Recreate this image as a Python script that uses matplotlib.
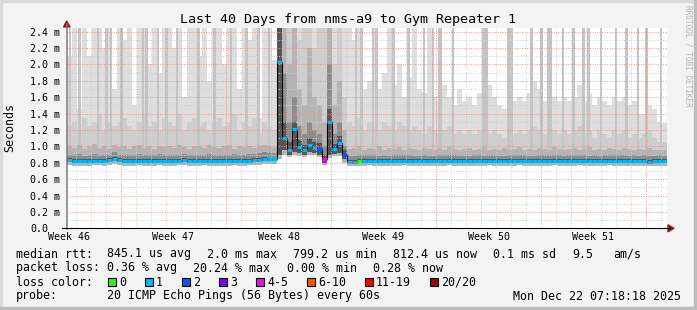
import numpy as np
import matplotlib
matplotlib.use("Agg")
import matplotlib.pyplot as plt
from matplotlib.patches import Rectangle, Polygon

W, H = 697, 310

# smoke values in ms, one column per 1/3 day (40 days -> 120 columns)
rtt_max = [2.10, 2.44, 1.45, 2.44, 2.10, 2.44, 2.44, 2.20, 2.44, 1.70,
           2.44, 2.30, 2.44, 1.50, 2.44, 2.44, 2.00, 2.44, 1.90, 2.44,
           2.44, 2.20, 2.44, 1.60, 2.44, 2.44, 2.10, 2.44, 1.80, 2.44,
           2.44, 2.00, 2.44, 2.44, 1.70, 2.44, 2.30, 2.44, 1.35, 2.44,
           2.44, 2.05, 2.44, 2.44, 2.44, 2.44, 2.44, 2.44, 2.44, 2.44,
           2.44, 2.44, 2.44, 2.44, 2.44, 2.44, 2.44, 2.30, 2.44, 1.70,
           1.80, 2.44, 1.70, 1.90, 2.44, 1.75, 2.00, 1.60, 1.85, 2.44,
           1.70, 1.65, 2.44, 1.60, 1.55, 1.75, 1.60, 1.50, 1.70, 1.55,
           1.60, 1.50, 1.65, 1.55, 1.75, 1.60, 1.50, 1.45, 1.60, 1.55,
           1.60, 1.55, 1.65, 1.80, 1.70, 1.55, 1.50, 1.60, 1.55, 1.60,
           1.55, 1.60, 1.75, 1.55, 1.65, 1.50, 1.60, 1.55, 1.50, 1.60,
           1.55, 1.60, 1.50, 1.55, 1.40, 1.40, 1.50, 1.45, 1.30, 1.28]
rtt_p90 = [1.25, 1.30, 1.20, 1.35, 1.25, 1.30, 1.40, 1.20, 1.30, 1.25,
           1.30, 1.35, 1.25, 1.20, 1.30, 1.40, 1.25, 1.30, 1.20, 1.35,
           1.30, 1.25, 1.40, 1.20, 1.30, 1.35, 1.25, 1.30, 1.20, 1.30,
           1.35, 1.25, 1.30, 1.40, 1.20, 1.30, 1.25, 1.35, 1.15, 1.30,
           1.25, 1.20, 2.44, 2.44, 2.44, 2.44, 2.30, 2.44, 2.44, 2.20,
           2.44, 2.44, 2.44, 2.00, 2.44, 1.60, 1.30, 1.25, 1.35, 1.20,
           1.30, 1.25, 1.20, 1.30, 1.25, 1.20, 1.30, 1.25, 1.20, 1.25,
           1.20, 1.15, 1.25, 1.20, 1.15, 1.20, 1.25, 1.15, 1.20, 1.15,
           1.20, 1.15, 1.20, 1.25, 1.15, 1.20, 1.15, 1.10, 1.20, 1.15,
           1.20, 1.15, 1.20, 1.25, 1.20, 1.15, 1.10, 1.20, 1.15, 1.20,
           1.15, 1.20, 1.25, 1.15, 1.20, 1.10, 1.20, 1.15, 1.10, 1.20,
           1.15, 1.20, 1.10, 1.15, 1.10, 1.15, 1.20, 1.10, 1.05, 1.05]
rtt_p75 = [1.00, 0.98, 1.02, 0.97, 1.00, 1.03, 0.98, 1.00, 0.97, 1.02,
           0.99, 1.01, 0.97, 1.00, 1.02, 0.98, 1.00, 0.97, 1.01, 0.99,
           1.00, 0.98, 1.02, 0.99, 0.97, 1.01, 1.00, 0.98, 1.02, 0.99,
           0.98, 1.00, 1.02, 0.97, 1.00, 0.99, 1.01, 0.98, 1.00, 1.02,
           1.00, 0.99, 2.44, 2.44, 2.00, 2.44, 1.70, 1.50, 2.20, 1.60,
           1.50, 1.30, 2.44, 1.50, 1.80, 1.20, 0.97, 0.98, 1.00, 0.96,
           0.98, 0.97, 1.00, 0.96, 0.98, 0.97, 0.99, 0.96, 0.98, 0.97,
           0.96, 0.98, 0.97, 0.95, 0.98, 0.96, 0.99, 0.97, 0.95, 0.97,
           0.98, 0.96, 0.97, 0.99, 0.96, 0.97, 0.95, 0.98, 0.96, 0.97,
           0.99, 0.96, 0.97, 0.95, 0.98, 0.97, 0.96, 0.99, 0.97, 0.96,
           0.97, 0.98, 0.96, 0.97, 0.99, 0.96, 0.97, 0.95, 0.98, 0.97,
           0.96, 0.98, 0.97, 0.95, 0.97, 0.96, 0.98, 0.96, 0.95, 0.96]
rtt_p65 = [0.90, 0.89, 0.91, 0.88, 0.90, 0.91, 0.89, 0.90, 0.90, 0.93,
           0.90, 0.90, 0.89, 0.90, 0.91, 0.89, 0.90, 0.90, 0.91, 0.89,
           0.90, 0.89, 0.90, 0.91, 0.89, 0.89, 0.90, 0.90, 0.91, 0.89,
           0.89, 0.90, 0.90, 0.91, 0.89, 0.90, 0.91, 0.91, 0.92, 0.93,
           0.92, 0.92, 2.44, 1.90, 1.30, 1.60, 1.25, 1.15, 1.30, 1.20,
           1.15, 1.00, 2.00, 1.15, 1.30, 1.00, 0.88, 0.88, 0.89, 0.89,
           0.89, 0.89, 0.88, 0.89, 0.88, 0.89, 0.89, 0.90, 0.89, 0.88,
           0.88, 0.89, 0.88, 0.88, 0.89, 0.89, 0.90, 0.89, 0.88, 0.88,
           0.88, 0.89, 0.89, 0.88, 0.90, 0.89, 0.88, 0.88, 0.89, 0.89,
           0.90, 0.89, 0.88, 0.88, 0.89, 0.89, 0.89, 0.90, 0.89, 0.88,
           0.89, 0.89, 0.90, 0.89, 0.88, 0.89, 0.88, 0.89, 0.90, 0.89,
           0.89, 0.89, 0.88, 0.89, 0.88, 0.89, 0.88, 0.88, 0.89, 0.88]
rtt_p55 = [0.855, 0.845, 0.845, 0.840, 0.845, 0.845, 0.850, 0.845, 0.855, 0.870,
           0.855, 0.845, 0.850, 0.845, 0.845, 0.840, 0.845, 0.850, 0.845, 0.845,
           0.850, 0.845, 0.845, 0.855, 0.845, 0.840, 0.845, 0.850, 0.845, 0.845,
           0.840, 0.845, 0.845, 0.850, 0.845, 0.845, 0.850, 0.855, 0.860, 0.865,
           0.860, 0.860, 2.440, 1.300, 1.050, 1.300, 1.080, 1.020, 1.100, 1.050,
           1.040, 0.900, 1.450, 1.030, 1.120, 0.950, 0.835, 0.835, 0.840, 0.845,
           0.850, 0.845, 0.845, 0.845, 0.840, 0.845, 0.845, 0.850, 0.845, 0.845,
           0.845, 0.845, 0.840, 0.840, 0.845, 0.845, 0.850, 0.845, 0.845, 0.840,
           0.840, 0.845, 0.845, 0.845, 0.850, 0.845, 0.845, 0.840, 0.845, 0.845,
           0.850, 0.845, 0.840, 0.840, 0.845, 0.845, 0.845, 0.850, 0.845, 0.840,
           0.845, 0.845, 0.850, 0.845, 0.845, 0.845, 0.840, 0.845, 0.850, 0.845,
           0.845, 0.845, 0.840, 0.845, 0.840, 0.845, 0.835, 0.840, 0.845, 0.840]
rtt_median = [0.830, 0.820, 0.820, 0.815, 0.820, 0.820, 0.825, 0.820, 0.830, 0.845,
              0.830, 0.820, 0.825, 0.820, 0.820, 0.815, 0.820, 0.825, 0.820, 0.820,
              0.825, 0.820, 0.820, 0.830, 0.820, 0.815, 0.820, 0.825, 0.820, 0.820,
              0.815, 0.820, 0.820, 0.825, 0.820, 0.820, 0.825, 0.830, 0.835, 0.840,
              0.840, 0.840, 2.030, 1.100, 0.960, 1.210, 0.990, 0.950, 1.020, 0.980,
              0.970, 0.850, 1.300, 0.970, 1.040, 0.900, 0.810, 0.810, 0.815, 0.820,
              0.825, 0.820, 0.820, 0.820, 0.815, 0.820, 0.820, 0.825, 0.820, 0.820,
              0.820, 0.820, 0.815, 0.815, 0.820, 0.820, 0.825, 0.820, 0.820, 0.815,
              0.815, 0.820, 0.820, 0.820, 0.825, 0.820, 0.820, 0.815, 0.820, 0.820,
              0.825, 0.820, 0.815, 0.815, 0.820, 0.820, 0.820, 0.825, 0.820, 0.815,
              0.820, 0.820, 0.825, 0.820, 0.820, 0.820, 0.815, 0.820, 0.825, 0.820,
              0.820, 0.820, 0.815, 0.820, 0.815, 0.820, 0.810, 0.815, 0.820, 0.815]
rtt_p35 = [0.805, 0.800, 0.800, 0.795, 0.800, 0.800, 0.805, 0.800, 0.805, 0.815,
           0.805, 0.800, 0.800, 0.800, 0.800, 0.795, 0.800, 0.800, 0.800, 0.800,
           0.800, 0.800, 0.800, 0.805, 0.800, 0.795, 0.800, 0.800, 0.800, 0.800,
           0.795, 0.800, 0.800, 0.800, 0.800, 0.800, 0.800, 0.805, 0.810, 0.815,
           0.815, 0.815, 0.900, 0.950, 0.900, 0.930, 0.920, 0.900, 0.930, 0.920,
           0.900, 0.800, 0.900, 0.910, 0.920, 0.840, 0.790, 0.790, 0.795, 0.800,
           0.800, 0.800, 0.795, 0.800, 0.795, 0.800, 0.800, 0.800, 0.800, 0.795,
           0.795, 0.800, 0.795, 0.795, 0.800, 0.800, 0.800, 0.800, 0.795, 0.795,
           0.795, 0.800, 0.800, 0.795, 0.800, 0.800, 0.795, 0.795, 0.800, 0.800,
           0.800, 0.795, 0.795, 0.795, 0.800, 0.800, 0.800, 0.800, 0.795, 0.795,
           0.800, 0.795, 0.800, 0.800, 0.795, 0.800, 0.795, 0.800, 0.800, 0.795,
           0.800, 0.795, 0.795, 0.800, 0.795, 0.795, 0.790, 0.795, 0.800, 0.795]
rtt_min = [0.770, 0.765, 0.765, 0.760, 0.765, 0.770, 0.770, 0.765, 0.770, 0.780,
           0.770, 0.765, 0.765, 0.765, 0.770, 0.760, 0.765, 0.765, 0.770, 0.765,
           0.765, 0.765, 0.770, 0.770, 0.765, 0.760, 0.765, 0.770, 0.765, 0.765,
           0.760, 0.765, 0.765, 0.770, 0.765, 0.765, 0.770, 0.770, 0.775, 0.780,
           0.780, 0.780, 0.850, 0.900, 0.870, 0.900, 0.880, 0.870, 0.900, 0.890,
           0.870, 0.770, 0.860, 0.880, 0.880, 0.800, 0.760, 0.760, 0.765, 0.765,
           0.770, 0.765, 0.760, 0.765, 0.760, 0.765, 0.765, 0.770, 0.765, 0.760,
           0.760, 0.765, 0.760, 0.760, 0.765, 0.765, 0.770, 0.765, 0.760, 0.760,
           0.760, 0.765, 0.765, 0.760, 0.770, 0.765, 0.760, 0.760, 0.765, 0.765,
           0.770, 0.760, 0.760, 0.760, 0.765, 0.765, 0.765, 0.770, 0.760, 0.760,
           0.765, 0.760, 0.770, 0.765, 0.760, 0.765, 0.760, 0.765, 0.770, 0.760,
           0.765, 0.760, 0.760, 0.765, 0.760, 0.760, 0.755, 0.760, 0.765, 0.760]
# lost pings (of 20) per column, colours the median line
loss_count = [1, 1, 1, 1, 1, 1, 1, 1, 1, 1, 1, 1, 1, 1, 1, 1, 1, 1, 1, 1,
              1, 1, 1, 1, 1, 1, 1, 1, 1, 1, 1, 1, 1, 1, 1, 1, 1, 1, 1, 1,
              1, 1, 1, 1, 1, 1, 1, 1, 1, 1, 2, 4, 1, 1, 1, 2, 1, 1, 0, 1,
              1, 1, 1, 1, 1, 1, 1, 1, 1, 1, 1, 1, 1, 1, 1, 1, 1, 1, 1, 1,
              1, 1, 1, 1, 1, 1, 1, 1, 1, 1, 1, 1, 1, 1, 1, 1, 1, 1, 1, 1,
              1, 1, 1, 1, 1, 1, 1, 1, 1, 1, 1, 1, 1, 1, 1, 1, 1, 1, 1, 1]

# short bursts where the upper pings hit the top (start day, length in days)
burst_day = [0.15, 0.75, 2.02, 2.55, 2.89, 3.55, 5.02, 5.22, 6.02, 6.55, 7.29, 8.69,
             9.75, 10.89, 11.89, 12.69, 13.42, 19.22, 19.55, 20.35, 20.55, 21.69,
             22.69, 23.75, 24.35, 24.75, 25.69, 27.69, 29.35, 30.89, 31.55, 32.02,
             33.02, 33.69, 34.35, 34.69, 35.55, 36.55, 37.22, 38.02, 38.55, 39.55]
burst_len = [0.13, 0.20, 0.13, 0.20, 0.13, 0.20, 0.13, 0.20, 0.13, 0.20, 0.13, 0.20,
             0.20, 0.13, 0.20, 0.20, 0.13, 0.13, 0.20, 0.13, 0.20, 0.20,
             0.20, 0.13, 0.13, 0.27, 0.13, 0.40, 0.40, 0.20, 0.20, 0.33,
             0.13, 0.20, 0.20, 0.20, 0.13, 0.13, 0.20, 0.13, 0.20, 0.13]

week_labels = ["Week 46", "Week 47", "Week 48", "Week 49", "Week 50", "Week 51"]
first_monday = 3.62  # days from window start to the first week boundary
yticks = [0.0, 0.2, 0.4, 0.6, 0.8, 1.0, 1.2, 1.4, 1.6, 1.8, 2.0, 2.2, 2.4]

rtt_stats = ["845.1 us avg", "2.0 ms max", "799.2 us min", "812.4 us now", "0.1 ms sd", "9.5"]
loss_stats = ["0.36 % avg", "20.24 % max", "0.00 % min", "0.28 % now"]
loss_classes = ["0", "1", "2", "3", "4-5", "6-10", "11-19", "20/20"]
loss_colors = ["#26ff00", "#00b8ff", "#0059ff", "#7e00ff", "#ff00ff", "#ff5500", "#ff0000", "#a10000"]

def loss_class(n):
    if n <= 3:
        return n
    if n <= 5:
        return 4
    if n <= 10:
        return 5
    if n < 20:
        return 6
    return 7

MONO = "DejaVu Sans Mono"
plt.rcParams["font.family"] = MONO

fig = plt.figure(figsize=(W / 100, H / 100), dpi=100, facecolor="#f3f3f3")

def fx(x):
    return x / W

def fy(y):
    return 1 - y / H

# frame shading
fig.patches.append(Rectangle((0, fy(2)), 1, 2 / H, transform=fig.transFigure, color="#dadada", zorder=0))
fig.patches.append(Rectangle((0, 0), 2 / W, 1, transform=fig.transFigure, color="#dadada", zorder=0))
fig.patches.append(Rectangle((0, 0), 1, 3 / H, transform=fig.transFigure, color="#bcbcbc", zorder=0))
fig.patches.append(Rectangle((fx(W - 3), 0), 3 / W, 1, transform=fig.transFigure, color="#bcbcbc", zorder=0))

top = 2.44
ax = fig.add_axes([fx(66.7), fy(228.3), 600 / W, 200 / H])
ax.set_facecolor("white")
ax.set_xlim(0, 40)
ax.set_ylim(0, top)
for s in ax.spines.values():
    s.set_visible(False)

n = len(rtt_median)
edges = np.arange(n + 1) / 3.0

def ext(a):
    return np.append(a, a[-1])

def band(lo, hi, color):
    ax.fill_between(edges, ext(lo), ext(hi), step="post", color=color, lw=0, zorder=1)

band(rtt_min, rtt_max, "#dedede")
band(rtt_min, rtt_p90, "#cecece")
base = [rtt_p75[int(d * 3)] for d in burst_day]
ax.bar(burst_day, [top - b for b in base], width=burst_len, bottom=base, align="edge",
       color="#c4c4c4", lw=0, zorder=1)
band(rtt_min, rtt_p75, "#b4b4b4")
band(rtt_p35, rtt_p65, "#8c8c8c")
band(rtt_p35, rtt_p55, "#555555")

# grid
dot = (0, (1, 1.5))
for d in np.arange(first_monday - 3, 40, 1.0):
    if abs((d - first_monday) % 7) > 0.01 and abs((d - first_monday) % 7 - 7) > 0.01:
        ax.axvline(d, color="#cfcfcf", lw=0.7, ls=dot, zorder=3)
for k in range(6):
    ax.axvline(first_monday + 7 * k, color="#f09090", lw=0.7, ls=dot, zorder=3)
for v in np.arange(0.1, 2.4, 0.2):
    ax.axhline(v, color="#cfcfcf", lw=0.7, ls=dot, zorder=3)
for v in yticks[1:]:
    ax.axhline(v, color="#f09090", lw=0.7, ls=dot, zorder=3)

# median line
ax.step(edges, ext(rtt_median), where="post", color="black", lw=0.8, zorder=4)
ax.hlines(rtt_median, edges[:-1], edges[1:], colors=[loss_colors[loss_class(c)] for c in loss_count],
          lw=2.2, zorder=5)

# ticks
ax.set_yticks(yticks)
ax.set_yticklabels(["%.1f m" % v if v > 0 else "0.0" for v in yticks], fontsize=7.2, family=MONO)
for lab in ax.get_yticklabels():
    lab.set_horizontalalignment("left")
ax.tick_params(axis="y", length=0, pad=26.4)
ax.set_xticks([first_monday - 3.5 + 7 * k for k in range(len(week_labels))])
ax.set_xticklabels(week_labels, fontsize=7.2, family=MONO)
ax.tick_params(axis="x", length=0, pad=3)

# axes with arrows
fig.lines.append(plt.Line2D([fx(66.7), fx(66.7)], [fy(228.5), fy(24)], transform=fig.transFigure,
                            color="#7a7a7a", lw=1.1))
fig.lines.append(plt.Line2D([fx(62), fx(670)], [fy(228.3), fy(228.3)], transform=fig.transFigure,
                            color="black", lw=0.8))
fig.patches.append(Polygon([[fx(63.5), fy(27)], [fx(70), fy(27)], [fx(66.7), fy(21)]],
                           closed=True, transform=fig.transFigure, color="#a01818"))
fig.patches.append(Polygon([[fx(668), fy(224.8)], [fx(668), fy(231.8)], [fx(674), fy(228.3)]],
                           closed=True, transform=fig.transFigure, color="#a01818"))

# texts
fig.text(fx(348), fy(19.5), "Last 40 Days from nms-a9 to Gym Repeater 1", ha="center", va="center",
         fontsize=9.6, family=MONO)
fig.text(fx(10), fy(128), "Seconds", rotation=90, ha="center", va="center", fontsize=8.4, family=MONO)
fig.text(fx(688), fy(5), "RRDTOOL / TOBI OETIKER", rotation=270, ha="center", va="top",
         fontsize=5.6, family=MONO, color="#b4b4b4")

lg = dict(fontsize=8.4, family=MONO, va="center")
rows = [254, 268, 282, 296]
fig.text(fx(16), fy(rows[0]), "median rtt:", **lg)
for x, s in zip([107, 207, 293, 393, 493, 572], rtt_stats):
    fig.text(fx(x), fy(rows[0]), s, **lg)
fig.text(fx(613), fy(rows[0]), "am/s", **lg)
fig.text(fx(16), fy(rows[1]), "packet loss:", **lg)
for x, s in zip([107, 193, 287, 373], loss_stats):
    fig.text(fx(x), fy(rows[1]), s, **lg)
fig.text(fx(16), fy(rows[2]), "loss color:", **lg)
box_x = [108, 145, 182, 219, 256, 307, 365, 430]
for bx, lab, col in zip(box_x, loss_classes, loss_colors):
    fig.patches.append(Rectangle((fx(bx), fy(rows[2] + 4)), 8 / W, 8 / H, transform=fig.transFigure,
                                 facecolor=col, edgecolor="black", lw=0.8))
    fig.text(fx(bx + 11), fy(rows[2]), lab, **lg)
fig.text(fx(16), fy(rows[3]), "probe:", **lg)
fig.text(fx(107), fy(rows[3]), "20 ICMP Echo Pings (56 Bytes) every 60s", **lg)
fig.text(fx(681), fy(rows[3]), "Mon Dec 22 07:18:18 2025", ha="right", fontsize=8.4, family=MONO, va="center")

fig.savefig("out.png", dpi=100, facecolor=fig.get_facecolor())
